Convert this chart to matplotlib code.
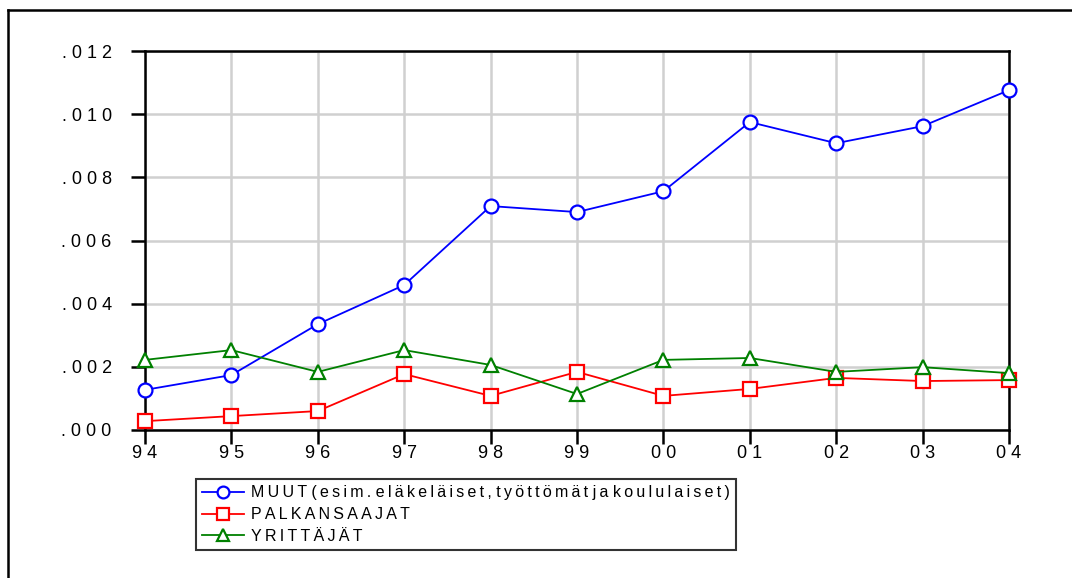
import numpy as np
import matplotlib
matplotlib.use('Agg')
import matplotlib.pyplot as plt
from matplotlib.lines import Line2D

plt.rcParams['font.family'] = ['Liberation Sans', 'DejaVu Sans']

years = ['94', '95', '96', '97', '98', '99', '00', '01', '02', '03', '04']

muut = [0.00127, 0.00174, 0.00335, 0.00459, 0.00709, 0.00690, 0.00756,
        0.00975, 0.00908, 0.00962, 0.01076]
palkansaajat = [0.00028, 0.00044, 0.00060, 0.00177, 0.00108, 0.00184, 0.00108,
                0.00130, 0.00165, 0.00155, 0.00158]
yrittajat = [0.00222, 0.00253, 0.00184, 0.00253, 0.00206, 0.00114, 0.00222,
             0.00228, 0.00184, 0.00199, 0.00180]

labels = ['MUUT (esim. eläkeläiset, työttömät ja koululaiset)',
          'PALKANSAAJAT',
          'YRITTÄJÄT']

yticks = [0.000, 0.002, 0.004, 0.006, 0.008, 0.010, 0.012]


def spaced(s, sep=' '):
  ''' EViews style letter spacing, words keep a normal space '''
  return ' '.join(sep.join(w) for w in s.split(' '))


W, H = 1072, 578
fig = plt.figure(figsize=(W / 100, H / 100), dpi=100)

# outer frame (top and left edges only visible)
fig.add_artist(Line2D([8 / W, 8 / W], [0, 1 - 10 / H], color='black', lw=1.8,
                      transform=fig.transFigure))
fig.add_artist(Line2D([8 / W, 1], [1 - 10 / H, 1 - 10 / H], color='black', lw=1.8,
                      transform=fig.transFigure))

left, right, top, bottom = 145, 1009, 51, 430
ax = fig.add_axes([left / W, 1 - bottom / H, (right - left) / W, (bottom - top) / H])

leg_labels = [spaced(l, '\u2009') for l in labels]

x = np.arange(len(years))
ms = 10
ax.plot(x, muut, color='blue', lw=1.3, marker='o', ms=ms, mfc='white', mec='blue',
        mew=1.6, label=leg_labels[0], clip_on=False, zorder=5)
ax.plot(x, palkansaajat, color='red', lw=1.3, marker='s', ms=ms, mfc='white', mec='red',
        mew=1.6, label=leg_labels[1], clip_on=False, zorder=5)
ax.plot(x, yrittajat, color='green', lw=1.3, marker='^', ms=ms, mfc='white', mec='green',
        mew=1.6, label=leg_labels[2], clip_on=False, zorder=5)

ax.set_xlim(0, len(years) - 1)
ax.set_ylim(0, 0.012)
ax.set_xticks(x)
ax.set_xticklabels([' '.join(y) for y in years])
ax.set_yticks(yticks)
ax.set_yticklabels([' '.join('%.3f' % v)[2:] for v in yticks])

ax.grid(True, color='#d0d0d0', lw=1.8)
ax.set_axisbelow(True)
for s in ax.spines.values():
  s.set_linewidth(1.8)
ax.tick_params(axis='both', direction='out', length=10, width=1.8, labelsize=13,
               colors='black')
ax.tick_params(axis='y', pad=14)
ax.tick_params(axis='x', pad=1)

fs = 11.5
leg = fig.legend(loc='upper left', bbox_to_anchor=(196 / W, 1 - 479 / H),
                 fontsize=fs, frameon=True, fancybox=False,
                 handlelength=42 / (fs * 100 / 72), markerscale=0.85,
                 handletextpad=0.4, labelspacing=0.42, borderpad=0.4,
                 borderaxespad=0)
leg.get_frame().set_edgecolor('black')
leg.get_frame().set_linewidth(1.5)

fig.savefig('out.png', dpi=100)
